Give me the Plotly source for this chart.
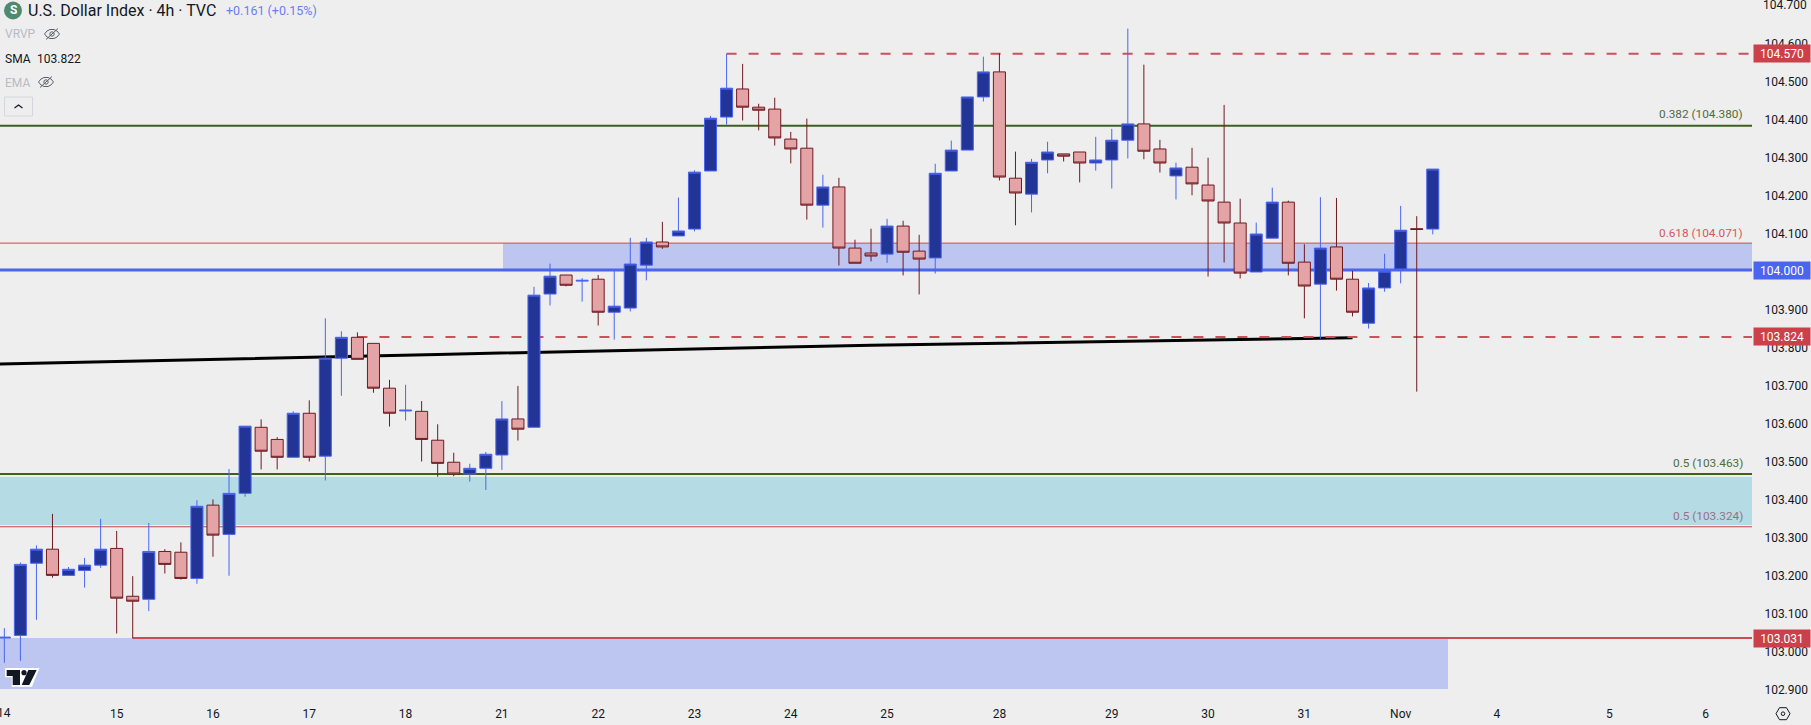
import plotly.graph_objects as go

# ---------- data ----------
opens = [103.031,103.038,103.228,103.265,103.196,103.209,103.223,103.267,103.141,103.133,
         103.259,103.257,103.188,103.381,103.304,103.412,103.586,103.554,103.507,103.623,
         103.510,103.768,103.823,103.807,103.689,103.629,103.628,103.552,103.494,103.463,
         103.478,103.513,103.608,103.586,103.937,103.987,103.971,103.976,103.889,103.900,
         104.013,104.074,104.090,104.108,104.261,104.403,104.477,104.429,104.424,104.345,
         104.321,104.171,104.219,104.058,104.045,104.042,104.116,104.050,104.032,104.261,
         104.316,104.456,104.522,104.242,104.200,104.290,104.306,104.311,104.282,104.290,
         104.342,104.385,104.319,104.248,104.271,104.224,104.179,104.124,103.995,104.084,
         104.179,104.021,103.963,104.061,103.976,103.860,103.953,104.003,104.109,104.108]
highs = [103.057,103.230,103.275,103.358,103.218,103.242,103.345,103.313,103.194,103.334,
         103.265,103.283,103.394,103.396,103.476,103.589,103.607,103.560,103.628,103.657,
         103.873,103.839,103.836,103.807,103.711,103.698,103.655,103.594,103.519,103.490,
         103.521,103.655,103.695,103.956,104.017,103.987,103.979,103.987,104.000,104.085,
         104.085,104.127,104.191,104.263,104.406,104.570,104.543,104.438,104.454,104.364,
         104.399,104.251,104.243,104.080,104.109,104.135,104.130,104.093,104.280,104.341,
         104.456,104.562,104.571,104.312,104.293,104.338,104.306,104.311,104.351,104.372,
         104.636,104.541,104.343,104.283,104.322,104.296,104.435,104.188,104.125,104.217,
         104.183,104.068,104.192,104.190,103.998,103.966,104.043,104.169,104.142,104.266]
lows = [102.966,102.971,103.079,103.190,103.196,103.164,103.216,103.043,103.030,103.102,
        103.201,103.185,103.174,103.245,103.195,103.403,103.475,103.475,103.507,103.496,
        103.446,103.669,103.765,103.677,103.588,103.604,103.496,103.456,103.457,103.443,
        103.421,103.474,103.551,103.586,103.907,103.957,103.917,103.854,103.817,103.891,
        103.973,104.056,104.090,104.102,104.261,104.383,104.394,104.368,104.328,104.281,
        104.133,104.112,104.012,104.018,104.023,104.019,103.986,103.936,103.991,104.261,
        104.316,104.444,104.236,104.118,104.152,104.255,104.286,104.231,104.262,104.215,
        104.294,104.292,104.257,104.186,104.197,103.983,104.020,103.978,103.995,104.084,
        103.986,103.873,103.819,103.946,103.878,103.846,103.943,103.965,103.680,104.094]
closes = [103.033,103.225,103.265,103.196,103.212,103.223,103.265,103.136,103.128,103.259,
          103.225,103.188,103.378,103.302,103.412,103.589,103.523,103.507,103.623,103.507,
          103.768,103.823,103.765,103.689,103.623,103.631,103.554,103.491,103.463,103.478,
          103.515,103.608,103.581,103.934,103.984,103.960,103.973,103.889,103.905,104.016,
          104.074,104.061,104.103,104.258,104.400,104.479,104.429,104.421,104.348,104.319,
          104.171,104.219,104.058,104.018,104.037,104.116,104.047,104.029,104.255,104.316,
          104.456,104.522,104.245,104.203,104.284,104.311,104.300,104.282,104.290,104.342,
          104.385,104.313,104.282,104.269,104.227,104.182,104.124,103.992,104.095,104.179,
          104.018,103.958,104.058,103.976,103.889,103.953,103.997,104.105,104.107,104.266]
bar_index = list(range(len(opens)))

day_ticks = [7, 13, 19, 25, 31, 37, 43, 49, 55, 62, 69, 75, 81, 87, 93, 100, 106]
day_labels = ["15", "16", "17", "18", "21", "22", "23", "24", "25", "28", "29", "30", "31", "Nov", "4", "5", "6"]
first_day_label = "14"
price_ticks = [102.9, 103.0, 103.1, 103.2, 103.3, 103.4, 103.5, 103.6, 103.7, 103.8, 103.9,
               104.0, 104.1, 104.2, 104.3, 104.4, 104.5, 104.6]
top_price_tick = 104.7

sma_index = [-1, 27, 54, 81, 84]
sma_values = [103.752, 103.778, 103.802, 103.820, 103.822]

# ---------- geometry / styling ----------
W, H = 1811, 725
ML, MR, MT, MB = 0, 59, 0, 30
PW, PH = W - ML - MR, H - MT - MB
X0, X1 = -0.27, 108.89
Y0, Y1 = 102.881, 104.7113
BG = "#eeeeee"
FONT = "Roboto"
INK = "#131722"

def px(x):
    return x / PW

def py(y):
    return 1 - y / PH

shapes = []

def rect(x0, x1, y0, y1, color):
    shapes.append(dict(type="rect", xref="x", yref="y", x0=x0, x1=x1, y0=y0, y1=y1,
                       fillcolor=color, line_width=0, layer="below"))

def hline(x0, y, color, width, dash="solid"):
    shapes.append(dict(type="line", xref="x", yref="y", x0=x0, x1=X1, y0=y, y1=y,
                       line=dict(color=color, width=width, dash=dash), layer="below"))

rect(31.07, X1, 104.000, 104.071, "#bdc6f1")
rect(X0, X1, 103.329, 103.455, "#b5dce5")
rect(X0, 89.95, 102.897, 103.031, "#bdc6f1")

hline(X0, 104.071, "#d9404b", 1)
hline(X0, 103.324, "#c0474f", 1)
hline(X0, 104.000, "#4a65f0", 3)
hline(X0, 104.380, "#3e5f20", 2)
hline(X0, 103.463, "#3e5f20", 2)
hline(8, 103.031, "#c94d57", 2)

sma_path = "M " + " L ".join(f"{a},{b}" for a, b in zip(sma_index, sma_values))
shapes.append(dict(type="path", xref="x", yref="y", path=sma_path,
                   line=dict(color="#000000", width=3), layer="below"))

hline(45, 104.570, "#cc5059", 2, "10px,12px")
hline(22, 103.824, "#cc5059", 2, "10px,12px")

# ---------- decoration in pixel coordinates ----------
def ppath(points, close=False):
    s = "M " + " L ".join(f"{px(a):.5f},{py(b):.5f}" for a, b in points)
    return s + (" Z" if close else "")

def deco(path, line=None, width=1, fill=None):
    shapes.append(dict(type="path", xref="paper", yref="paper", path=path,
                       line=dict(color=line or "rgba(0,0,0,0)", width=width if line else 0),
                       fillcolor=fill or "rgba(0,0,0,0)", layer="above"))

def circle(cx, cy, r, fill=None, line=None, width=1):
    shapes.append(dict(type="circle", xref="paper", yref="paper",
                       x0=px(cx - r), x1=px(cx + r), y0=py(cy + r), y1=py(cy - r),
                       fillcolor=fill or "rgba(0,0,0,0)",
                       line=dict(color=line or "rgba(0,0,0,0)", width=width if line else 0),
                       layer="above"))

def eye(cx, cy):
    c = "#5d606b"
    top = [(cx - 7.5, cy), (cx - 5, cy - 3), (cx - 2, cy - 4.5), (cx + 2, cy - 4.5), (cx + 5, cy - 3), (cx + 7.5, cy)]
    bot = [(cx + 5, cy + 3), (cx + 2, cy + 4.5), (cx - 2, cy + 4.5), (cx - 5, cy + 3)]
    deco(ppath(top + bot, True), c, 1)
    circle(cx, cy, 2.2, line=c)
    deco(ppath([(cx - 6, cy + 5.5), (cx + 6, cy - 5.5)]), c, 1)

circle(13, 10.5, 9, fill="#4f8a6f")
eye(52, 34)
eye(46, 82)

# collapse button
bx0, bx1, by0, by1 = 4.5, 32.5, 97, 116
deco(ppath([(bx0, by0), (bx1, by0), (bx1, by1), (bx0, by1)], True), "#d3d6dc", 1)
deco(ppath([(14.5, 108), (18.5, 105), (22.5, 108)]), INK, 1.2)

# tradingview logo
deco(ppath([(5, 668), (39.5, 668), (32, 686.7), (11.7, 686.7), (11.7, 677.3), (5, 677.3)], True), fill="#ffffff")
deco(ppath([(6.7, 670), (20, 670), (20, 685), (12.7, 685), (12.7, 676), (6.7, 676)], True), fill=INK)
circle(24, 672.7, 2.6, fill=INK)
deco(ppath([(28.3, 670), (36.7, 670), (29.3, 685), (21.7, 685)], True), fill=INK)

# settings hexagon
hx, hy = 1783, 713.7
deco(ppath([(hx - 7, hy), (hx - 3.5, hy - 6), (hx + 3.5, hy - 6), (hx + 7, hy), (hx + 3.5, hy + 6), (hx - 3.5, hy + 6)], True), INK, 1)
circle(hx, hy, 1.8, line=INK)

# ---------- text ----------
annotations = []

def text(x, y, s, color, size=12, anchor="left", bold=False):
    annotations.append(dict(xref="paper", yref="paper", x=px(x), y=py(y), text=f"<b>{s}</b>" if bold else s,
                            showarrow=False, xanchor=anchor, yanchor="middle", borderpad=0,
                            font=dict(family=FONT, size=size, color=color)))

def badge(value, color):
    annotations.append(dict(xref="paper", yref="y", x=px(1753), y=value, text=f"{value:.3f}",
                            showarrow=False, xanchor="left", yanchor="middle", width=56, height=17,
                            align="center", valign="middle", bgcolor=color, borderpad=0,
                            font=dict(family=FONT, size=12, color="#ffffff")))

text(13, 10.5, "S", "#ffffff", 12, "center", True)
text(27, 10.5, "U.S. Dollar Index · 4h · TVC", INK, 16)
text(225, 10.5, "+0.161 (+0.15%)", "#6a80f0", 12.5)
text(4, 34.3, "VRVP", "#b8bbc4", 12)
text(4, 58.7, "SMA", INK, 12)
text(36, 58.7, "103.822", INK, 12)
text(4, 82.7, "EMA", "#b8bbc4", 12)

text(1743.7, 114.3, "0.382 (104.380)", "#4f6d3b", 11.8, "right")
text(1743.7, 232.7, "0.618 (104.071)", "#cf5a60", 11.8, "right")
text(1743.7, 462.7, "0.5 (103.463)", "#4f6d3b", 11.8, "right")
text(1743.7, 515.7, "0.5 (103.324)", "#9b6f84", 11.8, "right")

# labels whose centres sit at the very edge of the page
text(4.3, 712.7, first_day_label, INK, 12, "center")
text(1761.6, 5.2, f"{top_price_tick:.3f}", INK, 12)

badge(104.570, "#cc4149")
badge(104.000, "#4a65f0")
badge(103.824, "#cc4149")
badge(103.031, "#cc4149")

# ---------- figure ----------
fig = go.Figure(go.Candlestick(
    x=bar_index, open=opens, high=highs, low=lows, close=closes,
    increasing=dict(line=dict(color="#4a65f0", width=1), fillcolor="#233497"),
    decreasing=dict(line=dict(color="#6e1a20", width=1), fillcolor="#e4a3a4"),
    whiskerwidth=0, hoverinfo="skip", showlegend=False,
))

fig.update_layout(
    width=W, height=H, margin=dict(l=ML, r=MR, t=MT, b=MB, pad=0),
    paper_bgcolor=BG, plot_bgcolor=BG, boxgap=0.25, boxgroupgap=0, showlegend=False,
    font=dict(family=FONT, size=12, color=INK),
    shapes=shapes, annotations=annotations,
    xaxis=dict(range=[X0, X1], tickmode="array", tickvals=day_ticks, ticktext=day_labels,
               showgrid=False, zeroline=False, showline=False, rangeslider=dict(visible=False),
               ticks="outside", ticklen=8, tickcolor=BG,
               tickfont=dict(family=FONT, size=12, color=INK)),
    yaxis=dict(range=[Y0, Y1], side="right", tickmode="array", tickvals=price_ticks,
               ticktext=[f"{v:.3f}" for v in price_ticks], showgrid=False, zeroline=False, showline=False,
               ticks="outside", ticklen=9, tickcolor=BG, ticklabelshift=2,
               tickfont=dict(family=FONT, size=12, color=INK)),
)

fig.write_html("out.html", config={"displayModeBar": False}, post_script="document.body.style.margin='0';")
